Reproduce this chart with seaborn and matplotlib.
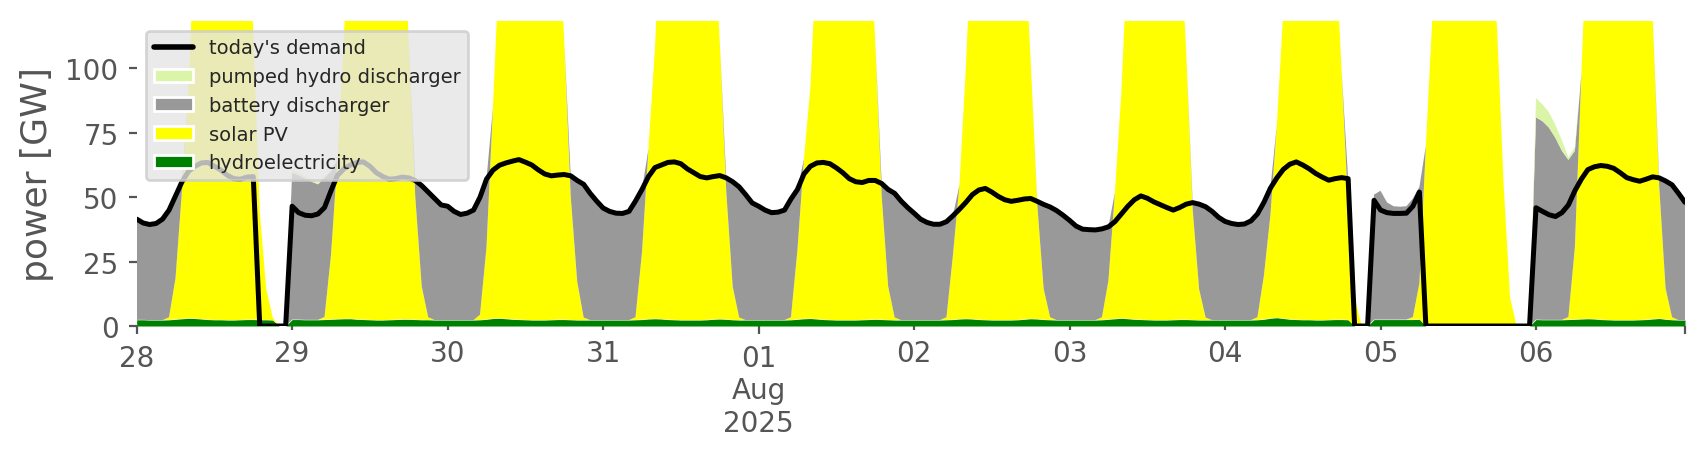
import numpy as np
import pandas as pd
import matplotlib
matplotlib.use('Agg')
import matplotlib.pyplot as plt
from matplotlib.patches import Patch
from matplotlib.lines import Line2D
import seaborn as sns

# hourly values in GW, one row per day (28 Jul .. 06 Aug 2025)
demand = [
    [41.5, 40.0, 39.4, 39.8, 41.5, 45.0, 50.5, 56.0, 60.0, 62.0, 63.3, 63.5, 62.0, 60.5, 58.5, 57.2, 57.0, 57.8, 58.0, 0, 0, 0, 0, 0],
    [46.5, 44.0, 43.0, 42.8, 43.5, 46.0, 52.5, 58.5, 61.0, 62.5, 63.5, 63.7, 62.0, 59.5, 58.0, 57.0, 57.2, 57.8, 57.5, 56.5, 54.5, 52.0, 49.5, 47.0],
    [46.5, 44.5, 43.3, 43.8, 45.0, 50.0, 57.0, 60.5, 62.4, 63.3, 64.0, 64.6, 63.6, 62.5, 60.6, 59.0, 58.3, 58.6, 58.8, 58.3, 56.5, 55.0, 51.5, 48.5],
    [45.8, 44.5, 43.8, 43.7, 44.5, 48.5, 53.0, 58.0, 61.5, 62.5, 63.5, 63.7, 63.0, 61.0, 59.5, 58.0, 57.5, 58.0, 58.4, 57.5, 56.0, 54.0, 51.0, 47.8],
    [46.5, 45.0, 44.0, 44.2, 45.0, 49.3, 53.0, 59.0, 62.0, 63.3, 63.5, 63.0, 61.4, 59.5, 57.2, 56.0, 55.7, 56.5, 56.5, 55.3, 53.0, 51.5, 48.5, 46.0],
    [43.8, 41.5, 40.2, 39.5, 39.5, 40.5, 42.8, 45.3, 48.0, 51.0, 52.8, 53.4, 52.0, 50.3, 49.0, 48.4, 48.8, 49.3, 49.5, 48.4, 47.2, 46.2, 44.8, 43.0],
    [41.0, 38.8, 37.6, 37.4, 37.3, 37.7, 38.5, 40.5, 43.5, 46.5, 49.0, 50.5, 49.6, 48.2, 47.1, 46.0, 45.0, 46.0, 47.3, 47.9, 47.3, 46.3, 44.5, 42.2],
    [40.6, 39.8, 39.4, 39.6, 40.8, 43.5, 48.0, 53.5, 57.5, 60.8, 62.8, 63.7, 62.5, 61.0, 59.2, 57.8, 56.6, 57.2, 57.6, 57.2, 0, 0, 0, 48.8],
    [45.0, 44.0, 43.7, 43.7, 43.8, 46.5, 52.0, 0, 0, 0, 0, 0, 0, 0, 0, 0, 0, 0, 0, 0, 0, 0, 0, 0],
    [45.9, 44.5, 43.2, 42.5, 44.0, 47.0, 52.5, 57.0, 60.7, 61.8, 62.3, 62.0, 61.2, 59.5, 57.6, 56.8, 56.2, 57.0, 57.9, 57.5, 56.3, 54.8, 51.5, 48.0],
]

hydro = [
    [2.4, 2.4, 2.3, 2.3, 2.3, 2.4, 2.6, 2.8, 3.0, 2.9, 2.7, 2.5, 2.4, 2.4, 2.3, 2.3, 2.4, 2.5, 2.5, 2.4, 2.4, 2.3, 0, 0],
    [2.5, 2.5, 2.4, 2.4, 2.4, 2.5, 2.6, 2.7, 2.8, 2.8, 2.6, 2.5, 2.4, 2.3, 2.3, 2.4, 2.5, 2.6, 2.6, 2.5, 2.4, 2.4, 2.3, 2.3],
    [2.3, 2.3, 2.3, 2.3, 2.3, 2.4, 2.6, 2.9, 3.0, 2.8, 2.6, 2.5, 2.4, 2.3, 2.3, 2.3, 2.4, 2.5, 2.5, 2.4, 2.3, 2.3, 2.3, 2.3],
    [2.3, 2.3, 2.3, 2.3, 2.3, 2.4, 2.5, 2.7, 2.8, 2.7, 2.5, 2.4, 2.3, 2.3, 2.3, 2.3, 2.4, 2.6, 2.7, 2.6, 2.4, 2.3, 2.3, 2.3],
    [2.3, 2.3, 2.3, 2.3, 2.3, 2.4, 2.6, 2.8, 2.9, 2.7, 2.5, 2.4, 2.3, 2.3, 2.3, 2.3, 2.4, 2.5, 2.6, 2.5, 2.4, 2.3, 2.3, 2.3],
    [2.3, 2.3, 2.3, 2.3, 2.3, 2.4, 2.5, 2.7, 2.8, 2.7, 2.5, 2.4, 2.3, 2.3, 2.3, 2.3, 2.4, 2.6, 2.8, 2.7, 2.5, 2.4, 2.3, 2.3],
    [2.3, 2.3, 2.3, 2.3, 2.3, 2.4, 2.6, 2.8, 3.0, 2.8, 2.6, 2.5, 2.4, 2.3, 2.3, 2.3, 2.4, 2.5, 2.5, 2.4, 2.3, 2.3, 2.3, 2.3],
    [2.3, 2.3, 2.3, 2.3, 2.3, 2.4, 2.6, 3.0, 3.2, 2.9, 2.6, 2.5, 2.4, 2.4, 2.3, 2.3, 2.4, 2.5, 2.5, 2.4, 0, 0, 0, 2.5],
    [2.5, 2.5, 2.5, 2.5, 2.5, 2.5, 2.6, 0, 0, 0, 0, 0, 0, 0, 0, 0, 0, 0, 0, 0, 0, 0, 0, 0],
    [2.5, 2.4, 2.4, 2.4, 2.4, 2.5, 2.6, 2.7, 2.8, 2.7, 2.5, 2.4, 2.3, 2.3, 2.3, 2.3, 2.4, 2.5, 2.7, 2.9, 2.6, 2.4, 2.3, 2.3],
]

solar = [
    [0, 0, 0, 0, 0, 1, 16, 50, 89, 150, 205, 238, 250, 246, 232, 210, 190, 170, 112, 42, 12, 1, 0, 0],
    [0, 0, 0, 0, 0, 1, 25, 62, 110, 165, 215, 245, 256, 252, 238, 214, 190, 162, 108, 48, 13, 1, 0, 0],
    [0, 0, 0, 0, 0, 2, 28, 82, 140, 192, 232, 256, 265, 260, 244, 220, 192, 160, 108, 48, 15, 1, 0, 0],
    [0, 0, 0, 0, 0, 1, 26, 66, 105, 160, 212, 244, 256, 252, 238, 214, 188, 158, 108, 50, 13, 1, 0, 0],
    [0, 0, 0, 0, 0, 1, 27, 62, 90, 145, 200, 236, 250, 246, 232, 210, 185, 160, 108, 48, 13, 1, 0, 0],
    [0, 0, 0, 0, 0, 1, 25, 52, 98, 155, 208, 240, 252, 248, 234, 210, 182, 150, 100, 45, 12, 1, 0, 0],
    [0, 0, 0, 0, 0, 1, 15, 49, 88, 145, 200, 236, 250, 246, 232, 210, 184, 155, 104, 43, 12, 1, 0, 0],
    [0, 0, 0, 0, 0, 1, 17, 40, 75, 120, 180, 222, 240, 238, 226, 204, 178, 148, 96, 44, 11, 1, 0, 0],
    [0, 0, 0, 0, 0, 1, 14, 70, 120, 175, 222, 250, 262, 256, 240, 216, 192, 165, 115, 55, 11, 0, 0, 0],
    [0, 0, 0, 0, 0, 1, 28, 95, 160, 210, 245, 265, 272, 266, 250, 226, 198, 170, 118, 52, 12, 1, 0, 0],
]

battery = [
    [39.1, 37.6, 37.1, 37.5, 39.2, 41.6, 31.9, 3.2, 0, 0, 0, 0, 0, 0, 0, 0, 0, 0, 0, 0, 0, 0, 0, 0],
    [57.0, 56.0, 54.8, 53.6, 52.6, 54.0, 32.4, 0, 0, 0, 0, 0, 0, 0, 0, 0, 0, 0, 0, 6.0, 39.1, 48.6, 47.2, 44.7],
    [44.2, 42.2, 41.0, 41.5, 42.7, 45.6, 26.4, 0, 0, 0, 0, 0, 0, 0, 0, 0, 0, 0, 0, 7.9, 39.2, 51.7, 49.2, 46.2],
    [43.5, 42.2, 41.5, 41.4, 42.2, 45.1, 24.5, 0, 0, 0, 0, 0, 0, 0, 0, 0, 0, 0, 0, 4.9, 40.6, 50.7, 48.7, 45.5],
    [44.2, 42.7, 41.7, 41.9, 42.7, 45.9, 23.4, 0, 0, 0, 0, 0, 0, 0, 0, 0, 0, 0, 0, 4.8, 37.6, 48.2, 46.2, 43.7],
    [41.5, 39.2, 37.9, 37.2, 37.2, 37.1, 15.3, 0, 0, 0, 0, 0, 0, 0, 0, 0, 0, 0, 0, 0.7, 32.7, 42.8, 42.5, 40.7],
    [38.7, 36.5, 35.3, 35.1, 35.0, 34.3, 20.9, 0, 0, 0, 0, 0, 0, 0, 0, 0, 0, 0, 0, 2.5, 33.0, 43.0, 42.2, 39.9],
    [38.3, 37.5, 37.1, 37.3, 38.5, 40.1, 28.4, 10.5, 0, 0, 0, 0, 0, 0, 0, 0, 0, 0, 0, 10.8, 0, 0, 0, 48.5],
    [50.0, 45.5, 44.0, 43.8, 44.0, 46.0, 37.4, 0, 0, 0, 0, 0, 0, 0, 0, 0, 0, 0, 0, 0, 0, 0, 0, 0],
    [78.5, 77.1, 74.6, 70.6, 65.6, 61.0, 37.4, 0, 0, 0, 0, 0, 0, 0, 0, 0, 0, 0, 0, 2.6, 41.7, 51.4, 49.2, 45.7],
]

pumped_hydro = [
    [0, 0, 0, 0, 0, 0, 0, 0, 0, 0, 0, 0, 0, 0, 0, 0, 0, 0, 0, 0, 0, 0, 0, 0],
    [1.0, 0.9, 0.8, 0.7, 0.7, 0.6, 0.4, 0, 0, 0, 0, 0, 0, 0, 0, 0, 0, 0, 0, 0, 0, 0, 0, 0],
    [0, 0, 0, 0, 0, 0, 0, 0, 0, 0, 0, 0, 0, 0, 0, 0, 0, 0, 0, 0, 0, 0, 0, 0],
    [0, 0, 0, 0, 0, 0, 0, 0, 0, 0, 0, 0, 0, 0, 0, 0, 0, 0, 0, 0, 0, 0, 0, 0],
    [0, 0, 0, 0, 0, 0, 0, 0, 0, 0, 0, 0, 0, 0, 0, 0, 0, 0, 0, 0, 0, 0, 0, 0],
    [0, 0, 0, 0, 0, 0, 0, 0, 0, 0, 0, 0, 0, 0, 0, 0, 0, 0, 0, 0, 0, 0, 0, 0],
    [0, 0, 0, 0, 0, 0, 0, 0, 0, 0, 0, 0, 0, 0, 0, 0, 0, 0, 0, 0, 0, 0, 0, 0],
    [0, 0, 0, 0, 0, 0, 0, 0, 0, 0, 0, 0, 0, 0, 0, 0, 0, 0, 0, 0, 0, 0, 0, 0],
    [0, 0, 0, 0, 0, 0, 0, 0, 0, 0, 0, 0, 0, 0, 0, 0, 0, 0, 0, 0, 0, 0, 0, 0],
    [7.5, 6.5, 6.0, 5.0, 4.0, 1.0, 1.5, 0, 0, 0, 0, 0, 0, 0, 0, 0, 0, 0, 0, 0, 0, 0, 0, 0],
]

day_labels = ['28', '29', '30', '31', '01\nAug\n2025', '02', '03', '04', '05', '06']

# 1. build the hourly table
times = pd.date_range('2025-07-28 00:00', periods=240, freq='h')
df = pd.DataFrame({
    'time': times,
    'demand': np.ravel(demand),
    'hydro': np.ravel(hydro),
    'solar': np.ravel(solar),
    'battery': np.ravel(battery),
    'pumped': np.ravel(pumped_hydro),
})

# 2. style
sns.set_style('ticks')
grey = '#555555'
plt.rcParams['font.family'] = ['DejaVu Sans']

colors = {
    'hydro': '#008000',
    'solar': '#ffff00',
    'battery': '#999999',
    'pumped': '#daf5a8',
}

fig = plt.figure(figsize=(8.53, 2.3), dpi=200)
ax = fig.add_axes([0.0801, 0.2891, 0.9076, 0.6631])

# 3. stacked generation + demand line
ax.stackplot(df['time'], df['hydro'], df['solar'], df['battery'], df['pumped'],
             colors=[colors['hydro'], colors['solar'], colors['battery'], colors['pumped']],
             linewidth=0)
sns.lineplot(data=df, x='time', y='demand', color='black', linewidth=1.8, ax=ax)

ax.set_xlim(df['time'].iloc[0], df['time'].iloc[-1])
ax.set_ylim(0, 118.4)

# 4. axes: long ticks at start / month / end, short ticks on other days
day_starts = pd.date_range('2025-07-28', periods=10, freq='D')
major = [day_starts[0], day_starts[4], df['time'].iloc[-1]]
minor = [d for i, d in enumerate(day_starts) if i not in (0, 4)]
ax.set_xticks(major, labels=[day_labels[0], day_labels[4], ''])
ax.set_xticks(minor, labels=[day_labels[i] for i in range(10) if i not in (0, 4)], minor=True)
ax.tick_params(axis='x', which='major', length=3.0, width=0.8, colors=grey, labelsize=10)
ax.tick_params(axis='x', which='minor', length=1.3, width=0.8, colors=grey, labelsize=10, pad=3.5)
ax.set_yticks([0, 25, 50, 75, 100])
ax.tick_params(axis='y', length=3.0, width=0.8, colors=grey, labelsize=10)
ax.set_xlabel('')
ax.set_ylabel('power [GW]', fontsize=13, color=grey)
sns.despine(ax=ax, left=True, bottom=True)

# 5. legend
handles = [
    Line2D([], [], color='black', linewidth=2, label="today's demand"),
    Patch(facecolor=colors['pumped'], label='pumped hydro discharger'),
    Patch(facecolor=colors['battery'], label='battery discharger'),
    Patch(facecolor=colors['solar'], label='solar PV'),
    Patch(facecolor=colors['hydro'], label='hydroelectricity'),
]
ax.legend(handles=handles, loc='upper left', fontsize=7, facecolor='#e5e5e5',
          edgecolor='#cccccc', framealpha=0.8, fancybox=True)

fig.savefig('out.png', dpi=200)
